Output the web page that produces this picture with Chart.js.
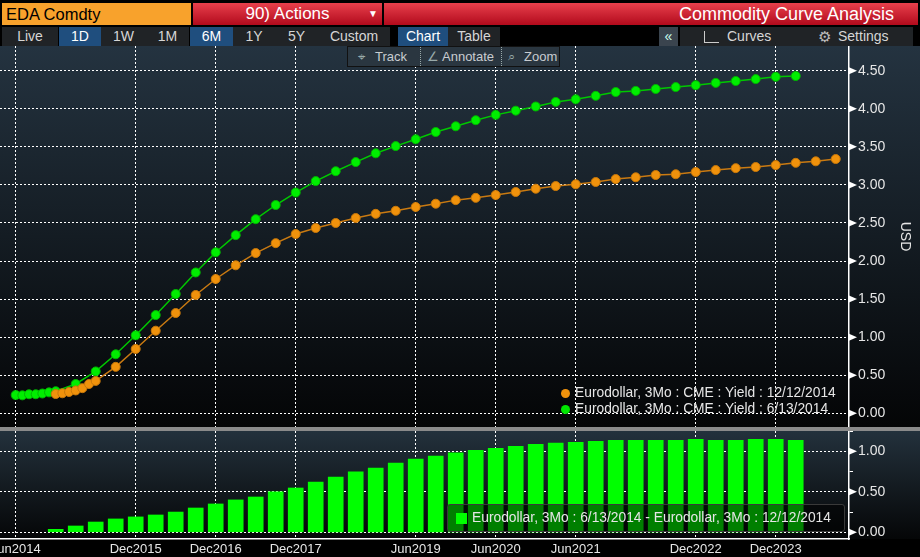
<!DOCTYPE html>
<html>
<head>
<meta charset="utf-8">
<script src="https://cdn.jsdelivr.net/npm/chart.js@4.4.0/dist/chart.umd.min.js"></script>
<style>
  body { margin: 0; width: 920px; height: 557px; background: #000; overflow: hidden; font-family: "Liberation Sans", Arial, sans-serif; position: relative; }
  .abs { position: absolute; }
  .hdr { top: 3px; height: 22px; line-height: 22px; }
  #sec { left: 2px; width: 189px; background: #f8a22c; color: #000; font-size: 16.5px; padding-left: 4px; box-sizing: border-box; }
  #act { left: 193px; width: 189px; background: linear-gradient(#e8404c, #b20a1c); color: #fff; font-size: 17px; text-align: center; }
  #act span { position: absolute; right: 4px; top: 0; font-size: 10px; }
  #ttl { left: 384px; width: 534px; background: linear-gradient(#e8404c, #b20a1c); color: #fff; font-size: 18px; text-align: right; padding-right: 24px; box-sizing: border-box; }
  .btn { top: 27px; height: 19px; line-height: 19px; background: #202326; color: #d6d6d6; font-size: 14px; text-align: center; }
  .on { background: #1f4e7e; color: #fff; }
  #tool { left: 347px; top: 46px; width: 213px; height: 21px; background: #2a3640; border: 1px solid #111; box-sizing: border-box; color: #c8ccd0; font-size: 13px; line-height: 19px; z-index: 5; }
  #tool div { position: absolute; top: 0; height: 19px; }
  .sep { border-left: 1px dotted #9aa; }
  #topbg { left: 0; top: 46px; width: 920px; height: 381px; background: linear-gradient(#243340, #040506); }
  #sepbar { left: 0; top: 427px; width: 920px; height: 4px; background: #8a8a8a; }
  #botbg { left: 0; top: 431px; width: 920px; height: 108px; background: linear-gradient(#23313c, #050607); }
  #topwrap { left: 0; top: 46px; width: 920px; height: 381px; }
  #botwrap { left: 0; top: 431px; width: 920px; height: 126px; }
  .leg { color: #e6e6e6; font-size: 13.8px; line-height: 16px; white-space: nowrap; }
  .dot { display: inline-block; width: 9px; height: 9px; border-radius: 50%; margin-right: 5px; vertical-align: -1px; }
  #leg2 { left: 447px; top: 504px; width: 398px; height: 28px; background: rgba(0,0,0,0.5); border: 1px solid #3a3a3a; border-radius: 3px; box-sizing: border-box; }
  #leg2 .sq { position: absolute; left: 8px; top: 8px; width: 11px; height: 11px; background: #00ff00; }
  #leg2 .tx { position: absolute; left: 24px; top: 5px; }
</style>
</head>
<body>
<div class="abs hdr" id="sec">EDA Comdty</div>
<div class="abs hdr" id="act">90) Actions<span>&#9660;</span></div>
<div class="abs hdr" id="ttl">Commodity Curve Analysis</div>

<div class="abs btn" style="left:2px;width:56px">Live</div>
<div class="abs btn on" style="left:59px;width:42px">1D</div>
<div class="abs btn" style="left:101px;width:45px">1W</div>
<div class="abs btn" style="left:146px;width:43px">1M</div>
<div class="abs btn on" style="left:190px;width:43px">6M</div>
<div class="abs btn" style="left:233px;width:42px">1Y</div>
<div class="abs btn" style="left:275px;width:43px">5Y</div>
<div class="abs btn" style="left:318px;width:72px">Custom</div>
<div class="abs btn on" style="left:398px;width:50px">Chart</div>
<div class="abs btn" style="left:448px;width:52px">Table</div>
<div class="abs btn" style="left:659px;width:19px;background:#3a444e;color:#cfe">&laquo;</div>
<div class="abs btn" style="left:680px;width:233px;text-align:left">
  <span style="position:absolute;left:24px;top:4px;width:14px;height:11px;border-left:1.5px solid #ccc;border-bottom:1.5px solid #ccc"></span>
  <span style="position:absolute;left:47px">Curves</span>
  <span style="position:absolute;left:138px;font-size:15px;color:#bbb">&#9881;</span>
  <span style="position:absolute;left:158px">Settings</span>
</div>

<div class="abs" id="topbg"></div>
<div class="abs" id="sepbar"></div>
<div class="abs" id="botbg"></div>

<div class="abs" id="topwrap"><canvas id="top"></canvas></div>
<div class="abs" id="botwrap"><canvas id="bot"></canvas></div>

<div class="abs" id="tool">
  <div style="left:10px;color:#9aa">&#8982;</div>
  <div style="left:27px">Track</div>
  <div class="sep" style="left:72px;width:1px"></div>
  <div style="left:79px;color:#9aa">&#8736;</div>
  <div style="left:94px">Annotate</div>
  <div class="sep" style="left:153px;width:1px"></div>
  <div style="left:160px;color:#9aa">&#8981;</div>
  <div style="left:176px">Zoom</div>
</div>

<div class="abs leg" style="left:561px;top:385px"><span class="dot" style="background:#f0920c"></span>Eurodollar, 3Mo : CME : Yield : 12/12/2014</div>
<div class="abs leg" style="left:561px;top:401px"><span class="dot" style="background:#00e600"></span>Eurodollar, 3Mo : CME : Yield : 6/13/2014</div>

<div class="abs leg" id="leg2"><div class="sq"></div><div class="tx">Eurodollar, 3Mo : 6/13/2014 - Eurodollar, 3Mo : 12/12/2014</div></div>

<script>
// x positions are months counted from Jun 2014 (contract months)
const tickMonths = [0, 18, 30, 42, 60, 72, 84, 102, 114];
const tickLabels = ['Jun2014', 'Dec2015', 'Dec2016', 'Dec2017', 'Jun2019', 'Jun2020', 'Jun2021', 'Dec2022', 'Dec2023'];

// curve as of 12/12/2014
const orangeMonths = [6, 7, 8, 9, 10, 11, 12, 15, 18, 21, 24, 27, 30, 33, 36, 39, 42, 45, 48, 51, 54, 57, 60, 63, 66, 69, 72, 75, 78, 81, 84, 87, 90, 93, 96, 99, 102, 105, 108, 111, 114, 117, 120, 123];
const orangeValues = [0.253, 0.263, 0.28, 0.30, 0.33, 0.385, 0.425, 0.61, 0.845, 1.085, 1.317, 1.554, 1.764, 1.944, 2.105, 2.235, 2.355, 2.434, 2.50, 2.565, 2.62, 2.66, 2.71, 2.753, 2.80, 2.83, 2.867, 2.907, 2.95, 2.985, 3.008, 3.038, 3.077, 3.10, 3.13, 3.14, 3.17, 3.195, 3.22, 3.235, 3.26, 3.29, 3.31, 3.34];

// curve as of 6/13/2014
const greenMonths = [0, 1, 2, 3, 4, 5, 6, 9, 12, 15, 18, 21, 24, 27, 30, 33, 36, 39, 42, 45, 48, 51, 54, 57, 60, 63, 66, 69, 72, 75, 78, 81, 84, 87, 90, 93, 96, 99, 102, 105, 108, 111, 114, 117];
const greenValues = [0.24, 0.236, 0.25, 0.25, 0.26, 0.275, 0.29, 0.385, 0.55, 0.775, 1.025, 1.29, 1.567, 1.85, 2.115, 2.34, 2.55, 2.736, 2.90, 3.05, 3.18, 3.30, 3.415, 3.51, 3.60, 3.695, 3.77, 3.85, 3.92, 3.975, 4.03, 4.09, 4.125, 4.17, 4.22, 4.235, 4.26, 4.285, 4.31, 4.34, 4.365, 4.39, 4.42, 4.43];

// spread bars (6/13/2014 - 12/12/2014)
const barMonths = [6, 9, 12, 15, 18, 21, 24, 27, 30, 33, 36, 39, 42, 45, 48, 51, 54, 57, 60, 63, 66, 69, 72, 75, 78, 81, 84, 87, 90, 93, 96, 99, 102, 105, 108, 111, 114, 117];
const barValues = [0.037, 0.078, 0.127, 0.165, 0.19, 0.214, 0.25, 0.30, 0.35, 0.40, 0.436, 0.50, 0.547, 0.62, 0.683, 0.745, 0.794, 0.855, 0.905, 0.94, 0.98, 1.012, 1.037, 1.06, 1.086, 1.10, 1.11, 1.123, 1.136, 1.136, 1.136, 1.136, 1.148, 1.136, 1.136, 1.148, 1.148, 1.136];

const xMin = -2.355, xMax = 124.99;

Chart.defaults.font.family = '"Liberation Sans", Arial, sans-serif';
Chart.defaults.color = '#e0e0e0';
Chart.defaults.animation = false;

function pts(xs, ys) {
    return xs.map((x, i) => ({x: x, y: ys[i]}));
}

function isMajor(v) {
    return Math.abs(v * 2 - Math.round(v * 2)) < 1e-6;
}

// little white arrow in front of each labelled y tick
const arrowTicks = {
    id: 'arrowTicks',
    afterDraw(chart) {
        const s = chart.scales.y;
        const ctx = chart.ctx;
        ctx.save();
        ctx.fillStyle = '#ffffff';
        s.ticks.forEach(t => {
            if (!isMajor(t.value)) return;
            const y = s.getPixelForValue(t.value);
            ctx.beginPath();
            ctx.moveTo(s.left, y - 3.5);
            ctx.lineTo(s.left + 8, y);
            ctx.lineTo(s.left, y + 3.5);
            ctx.closePath();
            ctx.fill();
        });
        ctx.restore();
    }
};

function xAxis(showLabels) {
    return {
        type: 'linear',
        min: xMin,
        max: xMax,
        offset: false,
        afterBuildTicks: s => { s.ticks = tickMonths.map(m => ({value: m})); },
        afterFit: s => {
            s.paddingLeft = 0; s.paddingRight = 0;
            s.height = showLabels ? 18 : 0;
        },
        ticks: {
            display: showLabels,
            maxRotation: 0,
            autoSkip: false,
            padding: 3,
            color: '#e6e6e6',
            font: {size: 13},
            callback: (v, i) => tickLabels[i]
        },
        grid: {color: '#ffffff', lineWidth: 1, drawTicks: false, offset: false, borderDash: [2, 2]},
        border: {display: showLabels, color: '#ffffff', width: 1.5, dash: [2, 2]}
    };
}

function yAxis(min, max, title) {
    return {
        type: 'linear',
        position: 'right',
        min: min,
        max: max,
        afterFit: s => { s.width = 71; s.paddingTop = 0; s.paddingBottom = 0; },
        ticks: {
            stepSize: 0.25,
            includeBounds: false,
            padding: 5,
            color: '#e6e6e6',
            font: {size: 14},
            callback: v => isMajor(v) ? v.toFixed(2) : ''
        },
        grid: {
            color: c => (c.tick && isMajor(c.tick.value)) ? '#ffffff' : 'rgba(0,0,0,0)',
            tickColor: '#ffffff',
            tickLength: 4,
            lineWidth: 1,
            borderDash: [2, 2]
        },
        border: {display: true, color: '#ffffff', width: 1.5, dash: [2, 2]},
        title: {display: !!title, text: title, color: '#e6e6e6', font: {size: 14}, padding: {top: 7, bottom: 0}}
    };
}

new Chart(document.getElementById('top'), {
    type: 'line',
    data: {
        datasets: [{
            label: 'Eurodollar, 3Mo : CME : Yield : 12/12/2014',
            data: pts(orangeMonths, orangeValues),
            borderColor: '#c97a12',
            borderWidth: 1.5,
            pointBackgroundColor: '#f0920c',
            pointBorderColor: '#c8780a',
            pointBorderWidth: 1,
            pointRadius: 4.5,
            tension: 0
        }, {
            label: 'Eurodollar, 3Mo : CME : Yield : 6/13/2014',
            data: pts(greenMonths, greenValues),
            borderColor: '#00c800',
            borderWidth: 1.5,
            pointBackgroundColor: '#00ee00',
            pointBorderColor: '#00b400',
            pointBorderWidth: 1,
            pointRadius: 4.5,
            tension: 0
        }]
    },
    options: {
        responsive: true,
        maintainAspectRatio: false,
        layout: {padding: 0, autoPadding: false},
        plugins: {legend: {display: false}, tooltip: {enabled: false}},
        scales: {
            x: xAxis(false),
            y: yAxis(-0.18, 4.8246, 'USD')
        }
    },
    plugins: [arrowTicks]
});

new Chart(document.getElementById('bot'), {
    type: 'bar',
    data: {
        datasets: [{
            label: 'Eurodollar, 3Mo : 6/13/2014 - Eurodollar, 3Mo : 12/12/2014',
            data: pts(barMonths, barValues),
            backgroundColor: '#00ff00',
            borderWidth: 0,
            barThickness: 15
        }]
    },
    options: {
        responsive: true,
        maintainAspectRatio: false,
        layout: {padding: 0, autoPadding: false},
        plugins: {legend: {display: false}, tooltip: {enabled: false}},
        scales: {
            x: xAxis(true),
            y: yAxis(-0.0827, 1.2506, '')
        }
    },
    plugins: [arrowTicks]
});
</script>
</body>
</html>
